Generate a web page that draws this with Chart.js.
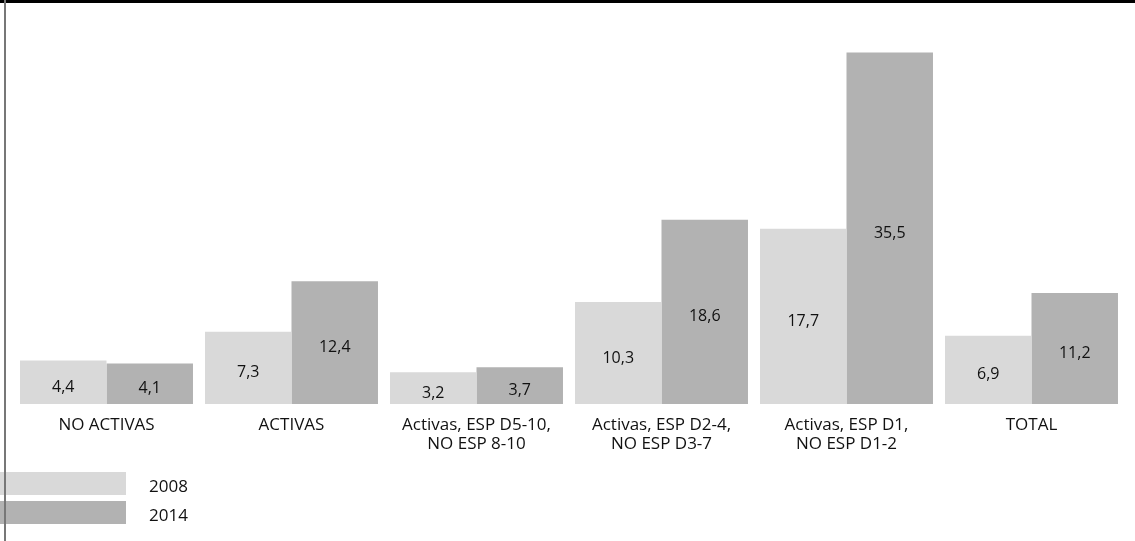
<!DOCTYPE html>
<html lang="es">
<head>
<meta charset="utf-8">
<title>2008 / 2014</title>
<script src="https://cdn.jsdelivr.net/npm/chart.js@4.4.1/dist/chart.umd.min.js"></script>
<style>
  html, body { margin: 0; padding: 0; background: #ffffff; }
  #wrap { position: relative; width: 1135px; height: 541px; }
</style>
</head>
<body>
<div id="wrap"><canvas id="chart" width="1135" height="541"></canvas></div>
<script>
// Categories (multi-line labels are arrays of lines)
const categories = [
  'NO ACTIVAS',
  'ACTIVAS',
  ['Activas, ESP D5-10,', 'NO ESP 8-10'],
  ['Activas, ESP D2-4,', 'NO ESP D3-7'],
  ['Activas, ESP D1,', 'NO ESP D1-2'],
  'TOTAL'
];
const seriesNames = ['2008', '2014'];
const values2008 = [4.4, 7.3, 3.2, 10.3, 17.7, 6.9];
const values2014 = [4.1, 12.4, 3.7, 18.6, 35.5, 11.2];
const seriesColors = ['#d9d9d9', '#b2b2b2'];

const FONT = '"Open Sans", "Noto Sans", sans-serif';
const TEXT = '#111111';

const fmt = v => v.toFixed(1).replace('.', ',');

// Value labels centred inside each bar
const valueLabels = {
  id: 'valueLabels',
  afterDatasetsDraw(chart) {
    const ctx = chart.ctx;
    ctx.save();
    ctx.font = '16px ' + FONT;
    ctx.fillStyle = TEXT;
    ctx.textAlign = 'center';
    ctx.textBaseline = 'middle';
    chart.data.datasets.forEach((ds, i) => {
      chart.getDatasetMeta(i).data.forEach((bar, j) => {
        const mid = (bar.y + bar.base) / 2;
        ctx.fillText(fmt(ds.data[j]), bar.x, mid + 5);
      });
    });
    ctx.restore();
  }
};

// Stacked legend in the lower-left corner plus the frame lines
const frameAndLegend = {
  id: 'frameAndLegend',
  afterDraw(chart) {
    const ctx = chart.ctx;
    ctx.save();
    chart.data.datasets.forEach((ds, i) => {
      const top = 472 + i * 29;
      ctx.fillStyle = ds.backgroundColor;
      ctx.fillRect(0, top, 126, 23);
      ctx.font = '17px ' + FONT;
      ctx.fillStyle = TEXT;
      ctx.textAlign = 'left';
      ctx.textBaseline = 'middle';
      ctx.fillText(ds.label, 149, top + 15);
    });
    ctx.fillStyle = '#000000';
    ctx.fillRect(0, 0, chart.width, 3);
    ctx.fillStyle = '#777777';
    ctx.fillRect(4, 0, 2, chart.height);
    ctx.restore();
  }
};

new Chart(document.getElementById('chart'), {
  type: 'bar',
  data: {
    labels: categories,
    datasets: [
      { label: seriesNames[0], data: values2008, backgroundColor: seriesColors[0] },
      { label: seriesNames[1], data: values2014, backgroundColor: seriesColors[1] }
    ]
  },
  options: {
    responsive: false,
    animation: false,
    layout: { padding: { top: 8, left: 14, right: 11, bottom: 0 } },
    datasets: { bar: { categoryPercentage: 0.935, barPercentage: 1.0, borderWidth: 0 } },
    plugins: {
      legend: { display: false },
      tooltip: { enabled: false },
      title: { display: false }
    },
    scales: {
      x: {
        grid: { display: false, drawTicks: false },
        border: { display: false },
        ticks: {
          color: TEXT,
          font: { family: FONT, size: 17, lineHeight: '19px' },
          padding: 12,
          maxRotation: 0,
          autoSkip: false
        },
        afterFit(scale) { scale.height = 137; }
      },
      y: {
        display: false,
        min: 0,
        max: 40
      }
    }
  },
  plugins: [valueLabels, frameAndLegend]
});
</script>
</body>
</html>
